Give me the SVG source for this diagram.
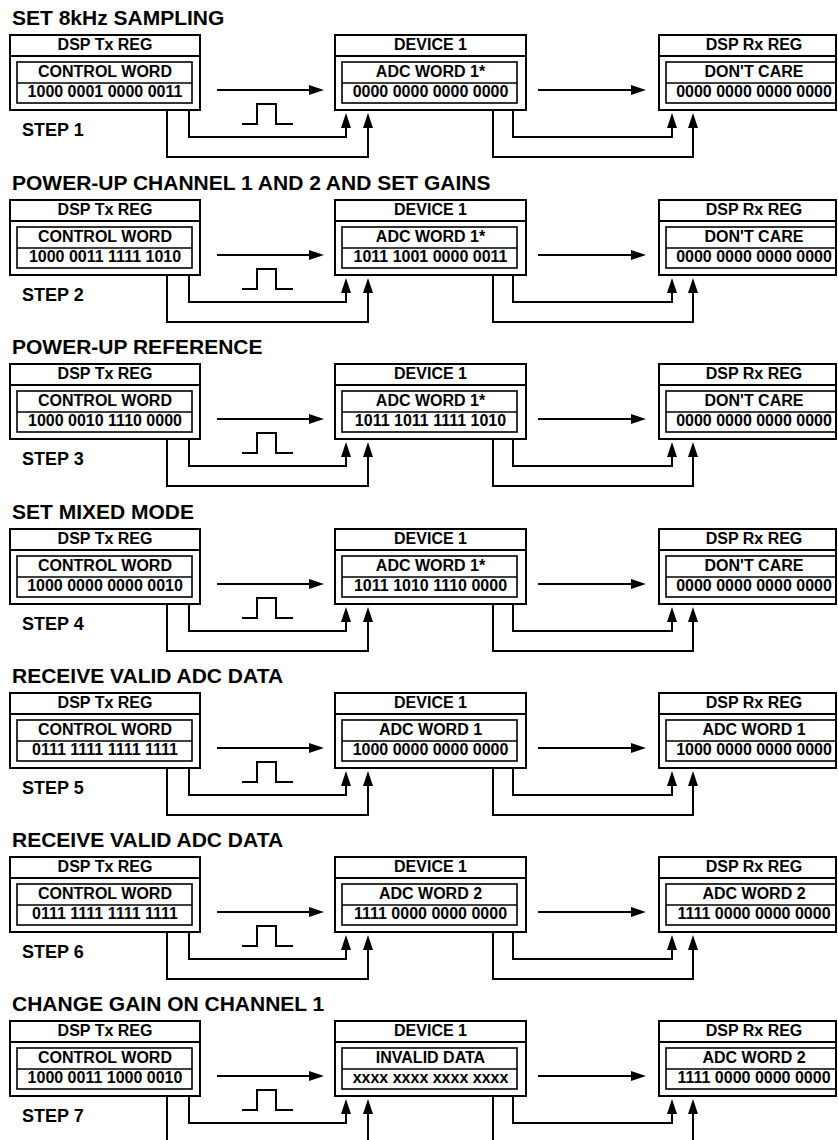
<svg xmlns="http://www.w3.org/2000/svg" width="838" height="1140" viewBox="0 0 838 1140">
<style>
.t{font-family:"Liberation Sans",Arial,Helvetica,sans-serif;font-weight:bold;fill:#000}
.title{font-size:21px}
.lbl{font-size:16px;text-anchor:middle}
.step{font-size:18px}
.box{fill:#fff;stroke:#000;stroke-width:2}
.in{fill:none;stroke:#000;stroke-width:1.6}
.ln{fill:none;stroke:#000;stroke-width:2}
.arr{fill:none;stroke:#000;stroke-width:2;marker-end:url(#ah)}
</style>
<defs>
<marker id="ah" markerUnits="userSpaceOnUse" markerWidth="15" markerHeight="10" refX="11" refY="5" orient="auto" viewBox="0 0 15 10">
<path d="M0,0 L15,5 L0,10 z" fill="#000"/>
</marker>
</defs>
<rect width="838" height="1140" fill="#fff"/>

<!-- STEP 1 -->
<g id="step1" transform="translate(0,35)">
<text class="t title" x="12" y="-10">SET 8kHz SAMPLING</text>
<text class="t step" x="22" y="101">STEP 1</text>
<g id="s1-tx"><rect class="box" x="10" y="0" width="190" height="75"/><line class="ln" x1="10" y1="21" x2="200" y2="21"/><rect class="in" x="17" y="27" width="175" height="41"/><line class="in" x1="17" y1="48" x2="192" y2="48"/><text class="t lbl" x="105" y="14.5">DSP Tx REG</text><text class="t lbl" x="105" y="42">CONTROL WORD</text><text class="t lbl" x="105" y="62">1000 0001 0000 0011</text></g>
<g id="s1-dev"><rect class="box" x="335" y="0" width="191" height="75"/><line class="ln" x1="335" y1="21" x2="526" y2="21"/><rect class="in" x="342" y="27" width="175" height="41"/><line class="in" x1="342" y1="48" x2="517" y2="48"/><text class="t lbl" x="430.5" y="14.5">DEVICE 1</text><text class="t lbl" x="430.5" y="42">ADC WORD 1*</text><text class="t lbl" x="430.5" y="62">0000 0000 0000 0000</text></g>
<g id="s1-rx"><rect class="box" x="659" y="0" width="177" height="75"/><line class="ln" x1="659" y1="21" x2="836" y2="21"/><rect class="in" x="666" y="27" width="170" height="41"/><line class="in" x1="666" y1="48" x2="836" y2="48"/><text class="t lbl" x="754" y="14.5">DSP Rx REG</text><text class="t lbl" x="754" y="42">DON'T CARE</text><text class="t lbl" x="754" y="62">0000 0000 0000 0000</text></g>
<g id="s1-conn"><path class="arr" d="M217,55 H320"/><path class="arr" d="M538,55 H642"/><path class="ln" d="M242,89 H257 V69 H276 V89 H293"/><path class="arr" d="M189,75 V102 H346 V82"/><path class="arr" d="M167,75 V122 H368 V82"/><path class="arr" d="M513,75 V102 H672 V82"/><path class="arr" d="M493,75 V122 H693 V82"/></g>
</g>

<!-- STEP 2 -->
<g id="step2" transform="translate(0,200)">
<text class="t title" x="12" y="-10">POWER-UP CHANNEL 1 AND 2 AND SET GAINS</text>
<text class="t step" x="22" y="101">STEP 2</text>
<g id="s2-tx"><rect class="box" x="10" y="0" width="190" height="75"/><line class="ln" x1="10" y1="21" x2="200" y2="21"/><rect class="in" x="17" y="27" width="175" height="41"/><line class="in" x1="17" y1="48" x2="192" y2="48"/><text class="t lbl" x="105" y="14.5">DSP Tx REG</text><text class="t lbl" x="105" y="42">CONTROL WORD</text><text class="t lbl" x="105" y="62">1000 0011 1111 1010</text></g>
<g id="s2-dev"><rect class="box" x="335" y="0" width="191" height="75"/><line class="ln" x1="335" y1="21" x2="526" y2="21"/><rect class="in" x="342" y="27" width="175" height="41"/><line class="in" x1="342" y1="48" x2="517" y2="48"/><text class="t lbl" x="430.5" y="14.5">DEVICE 1</text><text class="t lbl" x="430.5" y="42">ADC WORD 1*</text><text class="t lbl" x="430.5" y="62">1011 1001 0000 0011</text></g>
<g id="s2-rx"><rect class="box" x="659" y="0" width="177" height="75"/><line class="ln" x1="659" y1="21" x2="836" y2="21"/><rect class="in" x="666" y="27" width="170" height="41"/><line class="in" x1="666" y1="48" x2="836" y2="48"/><text class="t lbl" x="754" y="14.5">DSP Rx REG</text><text class="t lbl" x="754" y="42">DON'T CARE</text><text class="t lbl" x="754" y="62">0000 0000 0000 0000</text></g>
<g id="s2-conn"><path class="arr" d="M217,55 H320"/><path class="arr" d="M538,55 H642"/><path class="ln" d="M242,89 H257 V69 H276 V89 H293"/><path class="arr" d="M189,75 V102 H346 V82"/><path class="arr" d="M167,75 V122 H368 V82"/><path class="arr" d="M513,75 V102 H672 V82"/><path class="arr" d="M493,75 V122 H693 V82"/></g>
</g>

<!-- STEP 3 -->
<g id="step3" transform="translate(0,364)">
<text class="t title" x="12" y="-10">POWER-UP REFERENCE</text>
<text class="t step" x="22" y="101">STEP 3</text>
<g id="s3-tx"><rect class="box" x="10" y="0" width="190" height="75"/><line class="ln" x1="10" y1="21" x2="200" y2="21"/><rect class="in" x="17" y="27" width="175" height="41"/><line class="in" x1="17" y1="48" x2="192" y2="48"/><text class="t lbl" x="105" y="14.5">DSP Tx REG</text><text class="t lbl" x="105" y="42">CONTROL WORD</text><text class="t lbl" x="105" y="62">1000 0010 1110 0000</text></g>
<g id="s3-dev"><rect class="box" x="335" y="0" width="191" height="75"/><line class="ln" x1="335" y1="21" x2="526" y2="21"/><rect class="in" x="342" y="27" width="175" height="41"/><line class="in" x1="342" y1="48" x2="517" y2="48"/><text class="t lbl" x="430.5" y="14.5">DEVICE 1</text><text class="t lbl" x="430.5" y="42">ADC WORD 1*</text><text class="t lbl" x="430.5" y="62">1011 1011 1111 1010</text></g>
<g id="s3-rx"><rect class="box" x="659" y="0" width="177" height="75"/><line class="ln" x1="659" y1="21" x2="836" y2="21"/><rect class="in" x="666" y="27" width="170" height="41"/><line class="in" x1="666" y1="48" x2="836" y2="48"/><text class="t lbl" x="754" y="14.5">DSP Rx REG</text><text class="t lbl" x="754" y="42">DON'T CARE</text><text class="t lbl" x="754" y="62">0000 0000 0000 0000</text></g>
<g id="s3-conn"><path class="arr" d="M217,55 H320"/><path class="arr" d="M538,55 H642"/><path class="ln" d="M242,89 H257 V69 H276 V89 H293"/><path class="arr" d="M189,75 V102 H346 V82"/><path class="arr" d="M167,75 V122 H368 V82"/><path class="arr" d="M513,75 V102 H672 V82"/><path class="arr" d="M493,75 V122 H693 V82"/></g>
</g>

<!-- STEP 4 -->
<g id="step4" transform="translate(0,529)">
<text class="t title" x="12" y="-10">SET MIXED MODE</text>
<text class="t step" x="22" y="101">STEP 4</text>
<g id="s4-tx"><rect class="box" x="10" y="0" width="190" height="75"/><line class="ln" x1="10" y1="21" x2="200" y2="21"/><rect class="in" x="17" y="27" width="175" height="41"/><line class="in" x1="17" y1="48" x2="192" y2="48"/><text class="t lbl" x="105" y="14.5">DSP Tx REG</text><text class="t lbl" x="105" y="42">CONTROL WORD</text><text class="t lbl" x="105" y="62">1000 0000 0000 0010</text></g>
<g id="s4-dev"><rect class="box" x="335" y="0" width="191" height="75"/><line class="ln" x1="335" y1="21" x2="526" y2="21"/><rect class="in" x="342" y="27" width="175" height="41"/><line class="in" x1="342" y1="48" x2="517" y2="48"/><text class="t lbl" x="430.5" y="14.5">DEVICE 1</text><text class="t lbl" x="430.5" y="42">ADC WORD 1*</text><text class="t lbl" x="430.5" y="62">1011 1010 1110 0000</text></g>
<g id="s4-rx"><rect class="box" x="659" y="0" width="177" height="75"/><line class="ln" x1="659" y1="21" x2="836" y2="21"/><rect class="in" x="666" y="27" width="170" height="41"/><line class="in" x1="666" y1="48" x2="836" y2="48"/><text class="t lbl" x="754" y="14.5">DSP Rx REG</text><text class="t lbl" x="754" y="42">DON'T CARE</text><text class="t lbl" x="754" y="62">0000 0000 0000 0000</text></g>
<g id="s4-conn"><path class="arr" d="M217,55 H320"/><path class="arr" d="M538,55 H642"/><path class="ln" d="M242,89 H257 V69 H276 V89 H293"/><path class="arr" d="M189,75 V102 H346 V82"/><path class="arr" d="M167,75 V122 H368 V82"/><path class="arr" d="M513,75 V102 H672 V82"/><path class="arr" d="M493,75 V122 H693 V82"/></g>
</g>

<!-- STEP 5 -->
<g id="step5" transform="translate(0,693)">
<text class="t title" x="12" y="-10">RECEIVE VALID ADC DATA</text>
<text class="t step" x="22" y="101">STEP 5</text>
<g id="s5-tx"><rect class="box" x="10" y="0" width="190" height="75"/><line class="ln" x1="10" y1="21" x2="200" y2="21"/><rect class="in" x="17" y="27" width="175" height="41"/><line class="in" x1="17" y1="48" x2="192" y2="48"/><text class="t lbl" x="105" y="14.5">DSP Tx REG</text><text class="t lbl" x="105" y="42">CONTROL WORD</text><text class="t lbl" x="105" y="62">0111 1111 1111 1111</text></g>
<g id="s5-dev"><rect class="box" x="335" y="0" width="191" height="75"/><line class="ln" x1="335" y1="21" x2="526" y2="21"/><rect class="in" x="342" y="27" width="175" height="41"/><line class="in" x1="342" y1="48" x2="517" y2="48"/><text class="t lbl" x="430.5" y="14.5">DEVICE 1</text><text class="t lbl" x="430.5" y="42">ADC WORD 1</text><text class="t lbl" x="430.5" y="62">1000 0000 0000 0000</text></g>
<g id="s5-rx"><rect class="box" x="659" y="0" width="177" height="75"/><line class="ln" x1="659" y1="21" x2="836" y2="21"/><rect class="in" x="666" y="27" width="170" height="41"/><line class="in" x1="666" y1="48" x2="836" y2="48"/><text class="t lbl" x="754" y="14.5">DSP Rx REG</text><text class="t lbl" x="754" y="42">ADC WORD 1</text><text class="t lbl" x="754" y="62">1000 0000 0000 0000</text></g>
<g id="s5-conn"><path class="arr" d="M217,55 H320"/><path class="arr" d="M538,55 H642"/><path class="ln" d="M242,89 H257 V69 H276 V89 H293"/><path class="arr" d="M189,75 V102 H346 V82"/><path class="arr" d="M167,75 V122 H368 V82"/><path class="arr" d="M513,75 V102 H672 V82"/><path class="arr" d="M493,75 V122 H693 V82"/></g>
</g>

<!-- STEP 6 -->
<g id="step6" transform="translate(0,857)">
<text class="t title" x="12" y="-10">RECEIVE VALID ADC DATA</text>
<text class="t step" x="22" y="101">STEP 6</text>
<g id="s6-tx"><rect class="box" x="10" y="0" width="190" height="75"/><line class="ln" x1="10" y1="21" x2="200" y2="21"/><rect class="in" x="17" y="27" width="175" height="41"/><line class="in" x1="17" y1="48" x2="192" y2="48"/><text class="t lbl" x="105" y="14.5">DSP Tx REG</text><text class="t lbl" x="105" y="42">CONTROL WORD</text><text class="t lbl" x="105" y="62">0111 1111 1111 1111</text></g>
<g id="s6-dev"><rect class="box" x="335" y="0" width="191" height="75"/><line class="ln" x1="335" y1="21" x2="526" y2="21"/><rect class="in" x="342" y="27" width="175" height="41"/><line class="in" x1="342" y1="48" x2="517" y2="48"/><text class="t lbl" x="430.5" y="14.5">DEVICE 1</text><text class="t lbl" x="430.5" y="42">ADC WORD 2</text><text class="t lbl" x="430.5" y="62">1111 0000 0000 0000</text></g>
<g id="s6-rx"><rect class="box" x="659" y="0" width="177" height="75"/><line class="ln" x1="659" y1="21" x2="836" y2="21"/><rect class="in" x="666" y="27" width="170" height="41"/><line class="in" x1="666" y1="48" x2="836" y2="48"/><text class="t lbl" x="754" y="14.5">DSP Rx REG</text><text class="t lbl" x="754" y="42">ADC WORD 2</text><text class="t lbl" x="754" y="62">1111 0000 0000 0000</text></g>
<g id="s6-conn"><path class="arr" d="M217,55 H320"/><path class="arr" d="M538,55 H642"/><path class="ln" d="M242,89 H257 V69 H276 V89 H293"/><path class="arr" d="M189,75 V102 H346 V82"/><path class="arr" d="M167,75 V122 H368 V82"/><path class="arr" d="M513,75 V102 H672 V82"/><path class="arr" d="M493,75 V122 H693 V82"/></g>
</g>

<!-- STEP 7 -->
<g id="step7" transform="translate(0,1021)">
<text class="t title" x="12" y="-10">CHANGE GAIN ON CHANNEL 1</text>
<text class="t step" x="22" y="101">STEP 7</text>
<g id="s7-tx"><rect class="box" x="10" y="0" width="190" height="75"/><line class="ln" x1="10" y1="21" x2="200" y2="21"/><rect class="in" x="17" y="27" width="175" height="41"/><line class="in" x1="17" y1="48" x2="192" y2="48"/><text class="t lbl" x="105" y="14.5">DSP Tx REG</text><text class="t lbl" x="105" y="42">CONTROL WORD</text><text class="t lbl" x="105" y="62">1000 0011 1000 0010</text></g>
<g id="s7-dev"><rect class="box" x="335" y="0" width="191" height="75"/><line class="ln" x1="335" y1="21" x2="526" y2="21"/><rect class="in" x="342" y="27" width="175" height="41"/><line class="in" x1="342" y1="48" x2="517" y2="48"/><text class="t lbl" x="430.5" y="14.5">DEVICE 1</text><text class="t lbl" x="430.5" y="42">INVALID DATA</text><text class="t lbl" x="430.5" y="62">xxxx xxxx xxxx xxxx</text></g>
<g id="s7-rx"><rect class="box" x="659" y="0" width="177" height="75"/><line class="ln" x1="659" y1="21" x2="836" y2="21"/><rect class="in" x="666" y="27" width="170" height="41"/><line class="in" x1="666" y1="48" x2="836" y2="48"/><text class="t lbl" x="754" y="14.5">DSP Rx REG</text><text class="t lbl" x="754" y="42">ADC WORD 2</text><text class="t lbl" x="754" y="62">1111 0000 0000 0000</text></g>
<g id="s7-conn"><path class="arr" d="M217,55 H320"/><path class="arr" d="M538,55 H642"/><path class="ln" d="M242,89 H257 V69 H276 V89 H293"/><path class="arr" d="M189,75 V102 H346 V82"/><path class="arr" d="M167,75 V122 H368 V82"/><path class="arr" d="M513,75 V102 H672 V82"/><path class="arr" d="M493,75 V122 H693 V82"/></g>
</g>
</svg>
